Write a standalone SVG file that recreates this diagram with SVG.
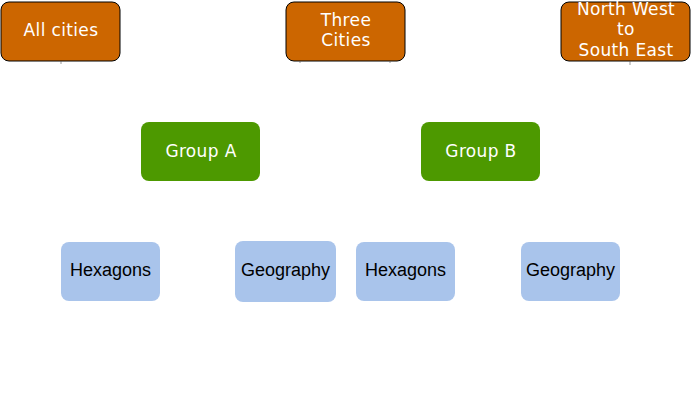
<svg xmlns="http://www.w3.org/2000/svg" width="691" height="403" viewBox="0 0 691 403">
<style>
.o{fill:#CC6600;stroke:#000;stroke-width:1}
.g{fill:#4D9900}
.b{fill:#A9C4EB}
.tw{font-family:"DejaVu Sans",Verdana,sans-serif;font-size:17px;letter-spacing:0.35px;fill:#fff;text-anchor:middle}
.tb{font-family:"Liberation Sans",Arial,sans-serif;font-size:18px;fill:#000;text-anchor:middle}
.c{stroke:#999;stroke-width:1;fill:none}
</style>
<rect width="691" height="403" fill="#fff"/>
<g id="connectors">
<path class="c" d="M61 61.5V64"/>
<path class="c" d="M300 61.5V63"/>
<path class="c" d="M390 61.5V63"/>
<path class="c" d="M630 61.5V65"/>
</g>
<g id="all-cities"><rect class="o" x="1" y="2" width="119" height="59" rx="8"/><text class="tw" x="61" y="36">All cities</text></g>
<g id="three-cities"><rect class="o" x="286" y="2" width="119" height="59" rx="8"/><text class="tw" x="346" y="26">Three</text><text class="tw" x="346" y="46">Cities</text></g>
<g id="nw-se"><rect class="o" x="561" y="2" width="129" height="59" rx="8"/><text class="tw" x="626" y="15">North West</text><text class="tw" x="626" y="35">to</text><text class="tw" x="626" y="56">South East</text></g>
<g id="group-a"><rect class="g" x="141" y="122" width="119" height="59" rx="8"/><text class="tw" x="201" y="157">Group A</text></g>
<g id="group-b"><rect class="g" x="421" y="122" width="119" height="59" rx="8"/><text class="tw" x="481" y="157">Group B</text></g>
<g id="hex-a"><rect class="b" x="61" y="242" width="99" height="59" rx="8"/><text class="tb" x="110.5" y="276">Hexagons</text></g>
<g id="geo-a"><rect class="b" x="235" y="241" width="101" height="61" rx="8"/><text class="tb" x="285.5" y="276">Geography</text></g>
<g id="hex-b"><rect class="b" x="356" y="242" width="99" height="59" rx="8"/><text class="tb" x="405.5" y="276">Hexagons</text></g>
<g id="geo-b"><rect class="b" x="521" y="242" width="99" height="59" rx="8"/><text class="tb" x="570.5" y="276">Geography</text></g>
</svg>
